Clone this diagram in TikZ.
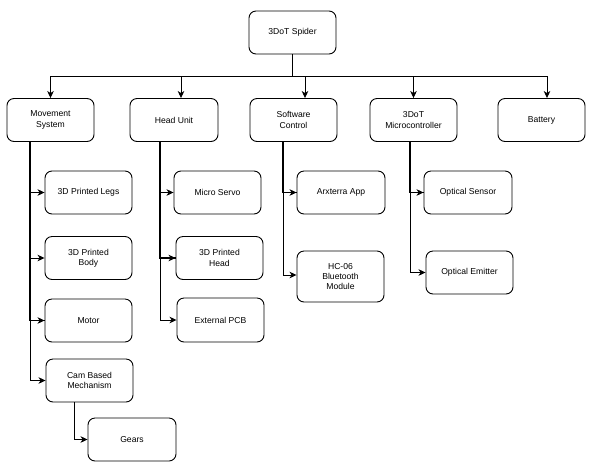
\documentclass[tikz,border=0pt]{standalone}
\usepackage{fontspec}
\setmainfont{Liberation Sans}
\usetikzlibrary{arrows.meta}
\tikzset{
  box/.style={draw, line width=0.9pt, rounded corners=7pt, minimum width=87pt, minimum height=43pt,
    inner sep=1pt, align=center, font=\fontsize{8.6}{10.4}\selectfont},
  arr/.style={line width=0.9pt, -{Stealth[length=7pt,width=6.5pt,inset=2pt]}},
  stem/.style={line width=1.6pt}
}
\begin{document}
\begin{tikzpicture}[x=1pt,y=-1pt]
\useasboundingbox (0,0) rectangle (592,475);
% nodes
\node[box] (top) at (292.5,32.5) {3DoT Spider};
\node[box] (move) at (50.5,120) {Movement\\System};
\node[box, minimum width=88pt] (head) at (174,120) {Head Unit};
\node[box] (soft) at (293.5,120) {Software\\Control};
\node[box] (micro) at (413.5,120) {3DoT\\Microcontroller};
\node[box] (batt) at (541.5,120) {Battery};
\node[box] (legs) at (88.5,192.5) {3D Printed Legs};
\node[box] (body) at (88.5,258) {3D Printed\\Body};
\node[box] (motor) at (88.5,320.5) {Motor};
\node[box] (cam) at (89.5,380.5) {Cam Based\\Mechanism};
\node[box, minimum width=88pt] (gears) at (132,439.5) {Gears};
\node[box] (servo) at (217.5,192.5) {Micro Servo};
\node[box] (phead) at (219.5,258) {3D Printed\\Head};
\node[box, minimum height=44pt] (pcb) at (220.5,320) {External PCB};
\node[box, minimum width=88pt] (arx) at (341,192.5) {Arxterra App};
\node[box, minimum height=51pt] (hc) at (340.5,276.5) {HC-06\\Bluetooth\\Module};
\node[box, minimum width=88pt] (osens) at (468,192.5) {Optical Sensor};
\node[box] (oemit) at (469.5,272.5) {Optical Emitter};
% top bus
\coordinate (bus) at (292.5,76);
\draw[stem] (top.south) -- (bus);
\draw[arr] (bus) -| (move.north);
\draw[arr] (bus) -| ([xshift=7pt]head.north);
\draw[arr] (bus) -| ([xshift=11.5pt]soft.north);
\draw[arr] (bus) -| (micro.north);
\draw[arr] (bus) -| ([xshift=5.5pt]batt.north);
% movement
\draw[stem] ([xshift=-20.5pt]move.south) |- (motor.west);
\draw[arr] ([xshift=-20.5pt]move.south) |- (legs.west);
\draw[arr] ([xshift=-20.5pt]move.south) |- (body.west);
\draw[arr] ([xshift=-20.5pt]move.south) |- (motor.west);
\draw[arr] ([xshift=-20.5pt]move.south) |- (cam.west);
\draw[arr] ([xshift=-15.5pt]cam.south) |- (gears.west);
% head
\draw[stem] ([xshift=-14pt]head.south) |- (phead.west);
\draw[arr] ([xshift=-14pt]head.south) |- (servo.west);
\draw[arr] ([xshift=-14pt]head.south) |- (phead.west);
\draw[arr] ([xshift=-14pt]head.south) |- (pcb.west);
% software
\draw[stem] ([xshift=-10.5pt]soft.south) |- (arx.west);
\draw[arr] ([xshift=-10.5pt]soft.south) |- (arx.west);
\draw[arr] ([xshift=-10.5pt]soft.south) |- ([yshift=1.5pt]hc.west);
% micro
\draw[stem] ([xshift=-3.5pt]micro.south) |- (osens.west);
\draw[arr] ([xshift=-3.5pt]micro.south) |- (osens.west);
\draw[arr] ([xshift=-3.5pt]micro.south) |- (oemit.west);
\end{tikzpicture}
\end{document}
